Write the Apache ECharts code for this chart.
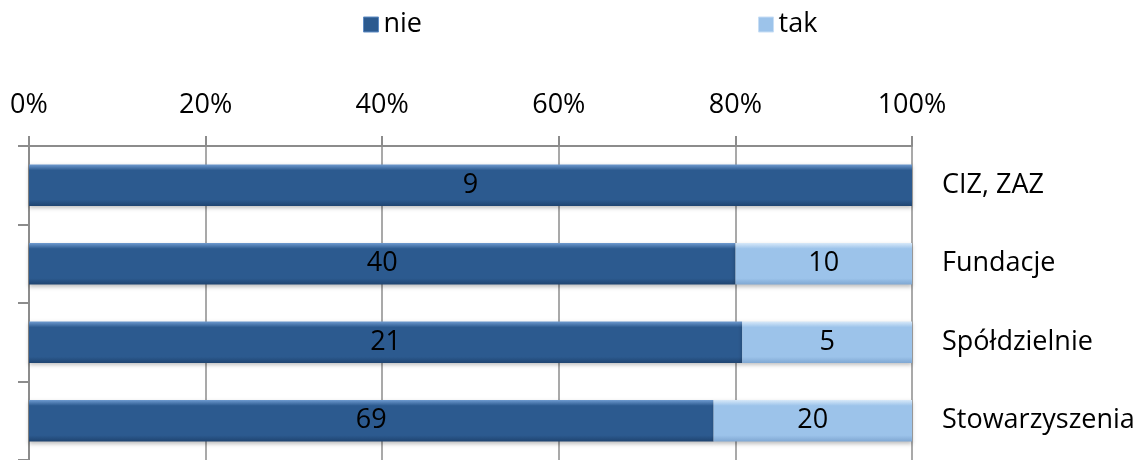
<!DOCTYPE html>
<html>
<head>
<meta charset="utf-8">
<script src="https://cdn.jsdelivr.net/npm/echarts@6/dist/echarts.min.js"></script>
<style>html,body{margin:0;padding:0;background:#fff}#c{width:1142px;height:460px}</style>
</head>
<body>
<div id="c"></div>
<script>
const categories = ['CIZ, ZAZ', 'Fundacje', 'Spółdzielnie', 'Stowarzyszenia'];
const nieCounts = [9, 40, 21, 69];
const takCounts = [0, 10, 5, 20];
const xTicks = [0, 20, 40, 60, 80, 100];

const pct = (arr) => arr.map((v, i) => v / (nieCounts[i] + takCounts[i]) * 100);
const niePct = pct(nieCounts);
const takPct = pct(takCounts);

const FONT = '"Open Sans", "Liberation Sans", sans-serif';

function grad(top, mid, bot) {
  return new echarts.graphic.LinearGradient(0, 0, 0, 1, [
    {offset: 0, color: top}, {offset: 0.14, color: mid}, {offset: 0.85, color: mid}, {offset: 1, color: bot}
  ]);
}
const nieColor = grad('#6f9bd0', '#2c5a8f', '#1f4470');
const takColor = grad('#d8e9f9', '#9cc3ea', '#7fa7d2');

const chart = echarts.init(document.getElementById('c'), null, {renderer: 'canvas'});
chart.setOption({
  animation: false,
  legend: {
    top: 6,
    left: 358,
    itemGap: 336,
    itemWidth: 15,
    itemHeight: 15,
    icon: 'rect',
    textStyle: {fontFamily: FONT, fontSize: 27, color: '#000', padding: [0, 0, 0, 0]},
    data: [
      {name: 'nie', itemStyle: {color: '#2c5a8f', borderColor: '#5f8cc4', borderWidth: 1}},
      {name: 'tak', itemStyle: {color: '#9cc3ea', borderColor: '#c8def5', borderWidth: 1}}
    ]
  },
  grid: {left: 29, right: 230, top: 146, bottom: 0, containLabel: false},
  xAxis: {
    type: 'value',
    position: 'top',
    min: 0, max: 100, interval: 20,
    axisLine: {show: true, lineStyle: {color: '#8c8c8c', width: 2}},
    axisTick: {show: true, length: 10, lineStyle: {color: '#8c8c8c', width: 2}},
    splitLine: {show: true, lineStyle: {color: '#8c8c8c', width: 1.5}},
    axisLabel: {
      margin: 27,
      fontFamily: FONT, fontSize: 27, color: '#000',
      formatter: (v) => xTicks.includes(v) ? v + '%' : ''
    }
  },
  yAxis: [
    {
      type: 'category',
      data: categories,
      inverse: true,
      position: 'left',
      axisLine: {show: true, lineStyle: {color: '#8c8c8c', width: 2}},
      axisTick: {show: true, length: 11, lineStyle: {color: '#8c8c8c', width: 2}},
      axisLabel: {show: false}
    },
    {
      type: 'category',
      data: categories,
      inverse: true,
      position: 'right',
      axisLine: {show: false},
      axisTick: {show: false},
      axisLabel: {show: true, margin: 30, fontFamily: FONT, fontSize: 27, color: '#000'}
    }
  ],
  series: [
    {
      name: 'nie', type: 'bar', stack: 's', yAxisIndex: 0,
      barWidth: '53%',
      data: niePct,
      itemStyle: {color: nieColor, shadowColor: 'rgba(0,0,0,0.25)', shadowBlur: 4, shadowOffsetY: 2},
      label: {
        show: true, position: 'inside', fontFamily: FONT, fontSize: 27, color: '#000',
        formatter: (p) => nieCounts[p.dataIndex] ? String(nieCounts[p.dataIndex]) : ''
      }
    },
    {
      name: 'tak', type: 'bar', stack: 's', yAxisIndex: 0,
      barWidth: '53%',
      data: takPct,
      itemStyle: {color: takColor, shadowColor: 'rgba(0,0,0,0.25)', shadowBlur: 4, shadowOffsetY: 2},
      label: {
        show: true, position: 'inside', fontFamily: FONT, fontSize: 27, color: '#000',
        formatter: (p) => takCounts[p.dataIndex] ? String(takCounts[p.dataIndex]) : ''
      }
    }
  ]
});
</script>
</body>
</html>
